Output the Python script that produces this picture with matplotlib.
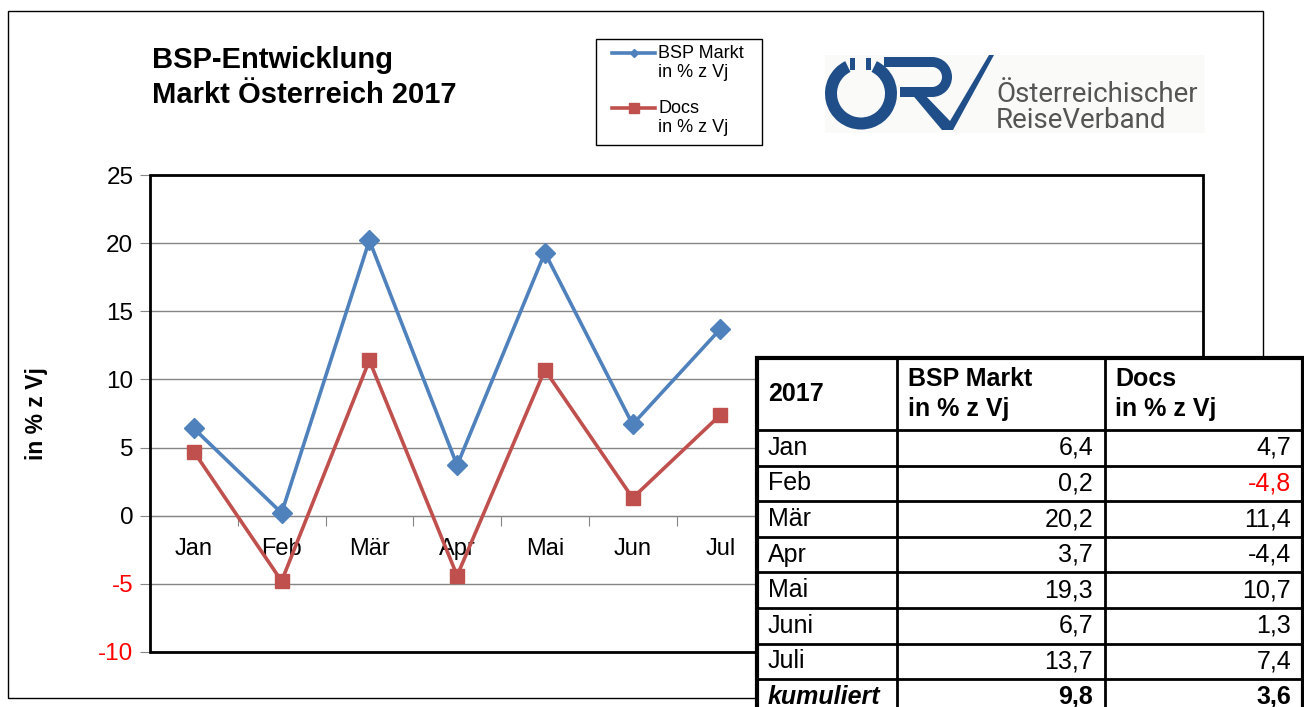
import matplotlib.pyplot as plt
from matplotlib.patches import Rectangle, Wedge, Polygon
from matplotlib.lines import Line2D

plt.rcParams['font.family'] = ['Liberation Sans', 'DejaVu Sans']
plt.rcParams['axes.unicode_minus'] = False

months = ['Jan', 'Feb', 'Mär', 'Apr', 'Mai', 'Jun', 'Jul', 'Aug', 'Sep', 'Okt', 'Nov', 'Dez']
bsp = [6.4, 0.2, 20.2, 3.7, 19.3, 6.7, 13.7]
docs = [4.7, -4.8, 11.4, -4.4, 10.7, 1.3, 7.4]

table_months = ['Jan', 'Feb', 'Mär', 'Apr', 'Mai', 'Juni', 'Juli']
cum_bsp = 9.8
cum_docs = 3.6

blue = '#4F81BD'
red = '#C0504D'
logo_blue = '#1F4E89'

W, H = 1304, 707
fig = plt.figure(figsize=(W / 100, H / 100), dpi=100)

# overlay in pixel coordinates (y down)
ov = fig.add_axes([0, 0, 1, 1], zorder=5)
ov.set_xlim(0, W)
ov.set_ylim(H, 0)
ov.axis('off')
ov.patch.set_alpha(0)

# outer chart border
ov.add_patch(Rectangle((8, 11), 1255, 687, fill=False, lw=1, ec='black'))

# main chart
x0, x1, y0, y1 = 150, 1203, 175, 652
ax = fig.add_axes([x0 / W, 1 - y1 / H, (x1 - x0) / W, (y1 - y0) / H], zorder=1)
xs = list(range(len(months)))
ax.plot(xs[:len(bsp)], bsp, color=blue, lw=2.6, marker='D', ms=10, zorder=4)
ax.plot(xs[:len(docs)], docs, color=red, lw=2.6, marker='s', ms=10, zorder=4)
ax.set_xlim(-0.5, len(months) - 0.5)
ax.set_ylim(-10, 25)
ax.set_yticks(range(-10, 30, 5))
ax.yaxis.grid(True, color='#868686', lw=1)
ax.set_axisbelow(True)
ax.tick_params(axis='y', direction='out', length=7, color='#868686', labelsize=17.5, pad=5)
for lab, v in zip(ax.get_yticklabels(), range(-10, 30, 5)):
    lab.set_color('red' if v < 0 else 'black')

# category axis at zero (labels past Jul sit under the table)
for s in ['top', 'right', 'left']:
    ax.spines[s].set_visible(False)
ax.spines['bottom'].set_position(('data', 0))
ax.spines['bottom'].set_color('#868686')
ax.set_xticks([i + 0.5 for i in xs[:len(bsp)]])
ax.set_xticklabels([])
ax.set_xticks(xs[:len(bsp)], minor=True)
ax.set_xticklabels(months[:len(bsp)], minor=True)
ax.tick_params(axis='x', which='major', direction='out', length=7, color='#868686')
ax.tick_params(axis='x', which='minor', length=0, labelsize=17, pad=16)
ax.add_patch(Rectangle((0, 0), 1, 1, transform=ax.transAxes, fill=False,
                       lw=2, ec='black', clip_on=False, zorder=5))
ax.set_ylabel('in % z Vj', fontsize=16.5, fontweight='bold')
ax.yaxis.set_label_coords(-102 / (x1 - x0), 0.5)

# title
ov.text(152, 46, 'BSP-Entwicklung\nMarkt Österreich 2017', fontsize=21,
        fontweight='bold', va='top', ha='left', linespacing=1.3)

# legend
ov.add_patch(Rectangle((596, 39), 166, 106, fill=False, lw=1, ec='black'))
ov.add_line(Line2D([612, 633.5, 655], [53, 53, 53], color=blue, lw=2.6,
                   marker='D', ms=4, markevery=[1]))
ov.add_line(Line2D([612, 633.5, 655], [108, 108, 108], color=red, lw=2.6,
                   marker='s', ms=7, markevery=[1]))
ov.text(658, 63, 'BSP Markt\nin % z Vj', fontsize=13, va='center', ha='left', linespacing=1.2)
ov.text(658, 118, 'Docs\nin % z Vj', fontsize=13, va='center', ha='left', linespacing=1.2)

# logo
ov.add_patch(Rectangle((825, 55), 380, 78, fc='#FAFAF8', ec='none'))
ov.add_patch(Wedge((861, 93.5), 36, -64, 244, width=12, fc=logo_blue, ec='none'))
ov.add_patch(Rectangle((850, 58), 5, 12, fc=logo_blue, ec='none'))
ov.add_patch(Rectangle((866, 58), 5, 12, fc=logo_blue, ec='none'))
ov.add_patch(Rectangle((884, 57), 48, 10, fc=logo_blue, ec='none'))
ov.add_patch(Wedge((932, 77), 20, -90, 90, width=10, fc=logo_blue, ec='none'))
ov.add_patch(Rectangle((900, 87), 32, 10, fc=logo_blue, ec='none'))
ov.add_patch(Polygon([(910, 92), (922, 92), (950, 121), (989, 55), (994, 55),
                      (953, 130), (942, 130)], closed=True, fc=logo_blue, ec='none'))
ov.text(996, 94, 'Österreichischer', fontsize=20, color='#555555', va='center',
        ha='left', family=['Roboto', 'DejaVu Sans'])
ov.text(996, 120, 'ReiseVerband', fontsize=20, color='#555555', va='center',
        ha='left', family=['Roboto', 'DejaVu Sans'])

# table
cols = [757, 897, 1105, 1303]
top, head_bot, row_h = 358, 430, 35.6
n_rows = len(table_months) + 1
bottom = head_bot + n_rows * row_h
ov.add_patch(Rectangle((cols[0], top), cols[-1] - cols[0], bottom - top,
                       fc='white', ec='black', lw=3, zorder=6))
for cx in cols[1:-1]:
    ov.plot([cx, cx], [top, bottom], color='black', lw=2, zorder=7)
for i in range(n_rows):
    yy = head_bot + i * row_h
    ov.plot([cols[0], cols[-1]], [yy, yy], color='black', lw=2, zorder=7)

fs = 18
hc = (top + head_bot) / 2
ov.text(768, hc, '2017', fontsize=fs, fontweight='bold', va='center', zorder=8)
ov.text(908, hc, 'BSP Markt\nin % z Vj', fontsize=fs, fontweight='bold',
        va='center', linespacing=1.3, zorder=8)
ov.text(1115, hc, 'Docs\nin % z Vj', fontsize=fs, fontweight='bold',
        va='center', linespacing=1.3, zorder=8)


def fmt(v):
    return f'{v:.1f}'.replace('.', ',')


for i, m in enumerate(table_months):
    yc = head_bot + (i + 0.5) * row_h
    ov.text(768, yc, m, fontsize=fs, va='center', zorder=8)
    ov.text(cols[2] - 12, yc, fmt(bsp[i]), fontsize=fs, va='center', ha='right', zorder=8)
    ov.text(cols[3] - 12, yc, fmt(docs[i]), fontsize=fs, va='center', ha='right', zorder=8,
            color='red' if m == 'Feb' else 'black')

yc = head_bot + (len(table_months) + 0.5) * row_h
ov.text(768, yc, 'kumuliert', fontsize=fs, fontweight='bold', fontstyle='italic',
        va='center', zorder=8)
ov.text(cols[2] - 12, yc, fmt(cum_bsp), fontsize=fs, fontweight='bold', va='center',
        ha='right', zorder=8)
ov.text(cols[3] - 12, yc, fmt(cum_docs), fontsize=fs, fontweight='bold', va='center',
        ha='right', zorder=8)

fig.savefig('out.png', dpi=100)
